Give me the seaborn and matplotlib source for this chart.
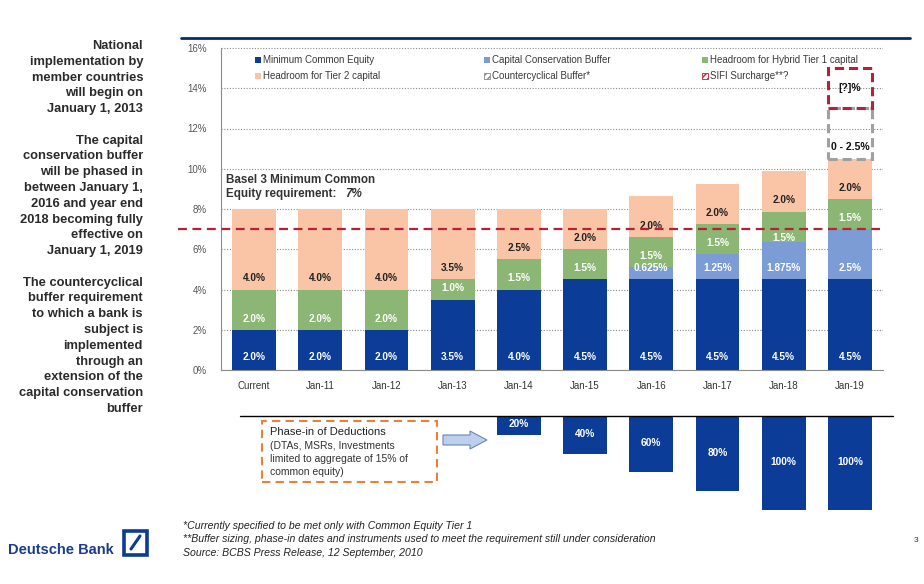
import numpy as np
import pandas as pd
import matplotlib
matplotlib.use("Agg")
import matplotlib.pyplot as plt
import seaborn as sns
from matplotlib.patches import Rectangle, Polygon
from matplotlib.lines import Line2D

# ---------------- data ----------------
categories = ["Current", "Jan-11", "Jan-12", "Jan-13", "Jan-14",
              "Jan-15", "Jan-16", "Jan-17", "Jan-18", "Jan-19"]
min_common_equity = [2.0, 2.0, 2.0, 3.5, 4.0, 4.5, 4.5, 4.5, 4.5, 4.5]
conservation_buffer = [0, 0, 0, 0, 0, 0, 0.625, 1.25, 1.875, 2.5]
hybrid_tier1 = [2.0, 2.0, 2.0, 1.0, 1.5, 1.5, 1.5, 1.5, 1.5, 1.5]
tier2 = [4.0, 4.0, 4.0, 3.5, 2.5, 2.0, 2.0, 2.0, 2.0, 2.0]
countercyclical = [0, 0, 0, 0, 0, 0, 0, 0, 0, 2.5]
sifi_surcharge = [0, 0, 0, 0, 0, 0, 0, 0, 0, 2.0]
countercyclical_label = "0 - 2.5%"
sifi_label = "[?]%"
deductions = [0, 0, 0, 0, 20, 40, 60, 80, 100, 100]
basel_min_common = 7.0
yticks = [0, 2, 4, 6, 8, 10, 12, 14, 16]
ytick_labels = ["0%", "2%", "4%", "6%", "8%", "10%", "12%", "14%", "16%"]
series_names = ["Minimum Common Equity", "Capital Conservation Buffer",
                "Headroom for Hybrid Tier 1 capital", "Headroom for Tier 2 capital",
                "Countercyclical Buffer*", "SIFI Surcharge**?"]

# ---------------- style ----------------
sns.set_style("white")
plt.rcParams["font.family"] = ["Liberation Sans", "DejaVu Sans"]

C_MCE = "#0B3C97"
C_CCB = "#7C9CD6"
C_HT1 = "#8BB673"
C_T2 = "#F9C5A6"
C_RED = "#B8203A"
C_GRAY = "#A0A0A0"
TXT = "#333333"

W, H = 924, 584
fig = plt.figure(figsize=(W / 100, H / 100), dpi=100)


def fx(x):
    return x / W


def fy(y):
    return 1 - y / H


PX_PER_PCT = 20.125
ax = fig.add_axes([fx(221), fy(370), 662 / W, 330 / H])

df = pd.DataFrame({"cat": categories, "mce": min_common_equity,
                   "ccb": conservation_buffer, "ht1": hybrid_tier1, "t2": tier2})
df["c1"] = df["mce"]
df["c2"] = df["c1"] + df["ccb"]
df["c3"] = df["c2"] + df["ht1"]
df["c4"] = df["c3"] + df["t2"]

for col, colr in [("c4", C_T2), ("c3", C_HT1), ("c2", C_CCB), ("c1", C_MCE)]:
    sns.barplot(data=df, x="cat", y=col, order=categories, color=colr,
                saturation=1, width=0.66, errorbar=None, linewidth=0, ax=ax)

xpos = np.arange(len(categories))
# dashed boxes for countercyclical / SIFI
cc = np.array(countercyclical, dtype=float)
sf = np.array(sifi_surcharge, dtype=float)
tops = df["c4"].to_numpy()
for i in xpos:
    if cc[i] > 0:
        ax.bar(i, cc[i], bottom=tops[i], width=0.66, fill=False,
               edgecolor=C_GRAY, linestyle=(0, (3, 1.6)), linewidth=2.2, zorder=3)
        ax.text(i, tops[i] + 0.6, countercyclical_label, ha="center", va="center",
                fontsize=7.5, fontweight="bold", color="#111111", zorder=5)
    if sf[i] > 0:
        ax.bar(i, sf[i], bottom=tops[i] + cc[i], width=0.66, fill=False,
               edgecolor=C_RED, linestyle=(0, (3, 1.6)), linewidth=2.2, zorder=3)
        ax.text(i, tops[i] + cc[i] + sf[i] / 2, sifi_label, ha="center", va="center",
                fontsize=7.5, fontweight="bold", color="#111111", zorder=5)


def fmt(v):
    if abs(round(v, 1) - v) < 1e-9:
        return f"{v:.1f}%"
    return f"{v:g}%"


segs = [("mce", "c1", "white", 0.65), ("ccb", "c2", "white", 0.55),
        ("ht1", "c3", "white", 0.55), ("t2", "c4", "#222222", 0.55)]
for i in xpos:
    for val_col, cum_col, tcol, off in segs:
        v = df.loc[i, val_col]
        if v <= 0:
            continue
        base = df.loc[i, cum_col] - v
        ypos = base + off
        if tcol == "white" and abs(ypos - basel_min_common) < 0.35:
            ypos = basel_min_common - 0.42
        ax.text(i, ypos, fmt(v), ha="center", va="center", fontsize=7.3,
                fontweight="bold", color=tcol, zorder=5)

ax.set_xlim(-0.5, 9.5)
ax.set_ylim(0, 330 / PX_PER_PCT)
ax.set_yticks(yticks)
ax.set_yticklabels(ytick_labels)
ax.set_xlabel("")
ax.set_ylabel("")
ax.yaxis.grid(True, linestyle=(0, (1, 1.5)), color="#8A8A8A", linewidth=0.8)
ax.set_axisbelow(True)
for s in ["top", "right"]:
    ax.spines[s].set_visible(False)
ax.spines["left"].set_color("#8A8A8A")
ax.spines["left"].set_bounds(0, 16)
ax.spines["bottom"].set_color("#8A8A8A")
ax.tick_params(axis="x", length=0, labelsize=7, labelcolor=TXT, pad=8)
ax.tick_params(axis="y", length=4, color="#8A8A8A", labelsize=7, labelcolor="#555555", pad=6)

# Basel 3 7% line
ax.plot([-1.15, 9.45], [basel_min_common, basel_min_common], color=C_RED,
        linestyle=(0, (4, 2.5)), linewidth=1.6, clip_on=False, zorder=6)
ax.text(-0.42, 9.45, "Basel 3 Minimum Common", fontsize=8.4, fontweight="bold",
        color=TXT, va="center", ha="left")
ax.text(-0.42, 8.75, "Equity requirement:", fontsize=8.4, fontweight="bold",
        color=TXT, va="center", ha="left")
ax.text(1.38, 8.75, f"{basel_min_common:g}%", fontsize=8.4, fontweight="bold",
        style="italic", color=TXT, va="center", ha="left")

# ---------------- legend (manual) ----------------
leg_items = [
    (258, 60, series_names[0], C_MCE, None, C_MCE),
    (487, 60, series_names[1], C_CCB, None, C_CCB),
    (705, 60, series_names[2], C_HT1, None, C_HT1),
    (258, 76, series_names[3], C_T2, None, C_T2),
    (487, 76, series_names[4], "white", "/////", "#888888"),
    (705, 76, series_names[5], "white", "/////", C_RED),
]
for x, y, lab, fc, hatch, ec in leg_items:
    r = Rectangle((fx(x - 3), fy(y + 3)), 6 / W, 6 / H, transform=fig.transFigure,
                  facecolor=fc, edgecolor=ec if hatch else "none", hatch=hatch,
                  linewidth=0.6)
    fig.add_artist(r)
    fig.text(fx(x + 5), fy(y), lab, fontsize=7.0, color="#3A3A3A", va="center", ha="left")

# top navy line
fig.add_artist(Line2D([fx(181), fx(910)], [fy(38), fy(38)], color="#0A2A6E",
                      linewidth=2, transform=fig.transFigure))

# ---------------- deductions panel ----------------
PX_PER_DED = 0.94
ax2 = fig.add_axes([fx(221), fy(520), 662 / W, 104 / H])
ded_df = pd.DataFrame({"cat": categories, "neg": [-d for d in deductions]})
sns.barplot(data=ded_df, x="cat", y="neg", order=categories, color=C_MCE,
            saturation=1, width=0.66, errorbar=None, linewidth=0, ax=ax2)
for i, d in enumerate(deductions):
    if d > 0:
        ax2.text(i, -d / 2 + 1, f"{d}%", ha="center", va="center", fontsize=7.3,
                 fontweight="bold", color="white")
ax2.set_xlim(-0.5, 9.5)
ax2.set_ylim(-104 / PX_PER_DED, 0)
ax2.axis("off")

fig.add_artist(Line2D([fx(240), fx(893)], [fy(416), fy(416)], color="black",
                      linewidth=1, transform=fig.transFigure))

# phase-in box
fig.add_artist(Rectangle((fx(262), fy(482)), 175 / W, 61 / H, transform=fig.transFigure,
                         fill=False, edgecolor="#E8823A", linewidth=1.5,
                         linestyle=(0, (4, 2.5))))
fig.text(fx(270), fy(432), "Phase-in of Deductions", fontsize=8, color="#222222",
         va="center", ha="left")
for k, line in enumerate(["(DTAs, MSRs, Investments", "limited to aggregate of 15% of",
                          "common equity)"]):
    fig.text(fx(270), fy(446 + 13 * k), line, fontsize=7.5, color="#333333",
             va="center", ha="left")

arrow_pts = [(443, 435), (470, 435), (470, 431), (487, 440), (470, 449), (470, 445), (443, 445)]
fig.add_artist(Polygon([(fx(a), fy(b)) for a, b in arrow_pts], closed=True,
                       transform=fig.transFigure, facecolor="#BCD0EE",
                       edgecolor="#6C86B4", linewidth=0.8))

# ---------------- left commentary ----------------
left_lines = ["National", "implementation by", "member countries", "will begin on",
              "January 1, 2013", "",
              "The capital", "conservation buffer", "will be phased in",
              "between January 1,", "2016 and year end", "2018 becoming fully",
              "effective on", "January 1, 2019", "",
              "The countercyclical", "buffer requirement", "to which a bank is",
              "subject is", "implemented", "through an", "extension of the",
              "capital conservation", "buffer"]
for k, line in enumerate(left_lines):
    if line:
        fig.text(fx(143), fy(46 + 15.78 * k), line, fontsize=9.3, fontweight="bold",
                 color="#2A2A2A", ha="right", va="center")

# ---------------- footnotes ----------------
notes = ["*Currently specified to be met only with Common Equity Tier 1",
         "**Buffer sizing, phase-in dates and instruments used to meet the requirement still under consideration",
         "Source: BCBS Press Release, 12 September, 2010"]
for k, n in enumerate(notes):
    fig.text(fx(183), fy(526 + 13.5 * k), n, fontsize=7.55, style="italic",
             color="#222222", ha="left", va="center")
fig.text(fx(916), fy(540), "3", fontsize=6, color="#333333", ha="center", va="center")

# ---------------- logo ----------------
fig.text(fx(8), fy(550), "Deutsche Bank", fontsize=10.5, fontweight="bold",
         color="#1B3C8C", ha="left", va="center")
fig.add_artist(Rectangle((fx(124), fy(555)), 23 / W, 24 / H, transform=fig.transFigure,
                         fill=False, edgecolor="#0A3C96", linewidth=2.6))
fig.add_artist(Line2D([fx(131), fx(140)], [fy(549), fy(536)], color="#0A3C96",
                      linewidth=2.2, transform=fig.transFigure))

fig.savefig("out.png", dpi=100)
